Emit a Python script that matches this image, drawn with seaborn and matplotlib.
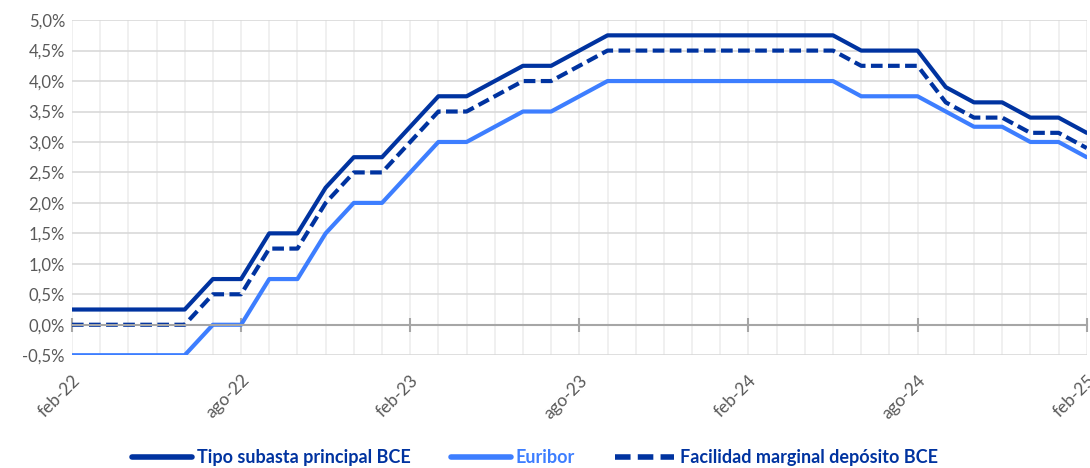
import pandas as pd
import matplotlib.pyplot as plt
import matplotlib.ticker as mticker
import seaborn as sns

# Monthly series, feb-22 .. feb-25 (%)
months = pd.date_range("2022-02-01", "2025-02-01", freq="MS")

tipo_principal = [0.25, 0.25, 0.25, 0.25, 0.25, 0.75, 0.75, 1.50, 1.50, 2.25,
                  2.75, 2.75, 3.25, 3.75, 3.75, 4.00, 4.25, 4.25, 4.50, 4.75,
                  4.75, 4.75, 4.75, 4.75, 4.75, 4.75, 4.75, 4.75, 4.50, 4.50,
                  4.50, 3.90, 3.65, 3.65, 3.40, 3.40, 3.15]
euribor = [-0.50, -0.50, -0.50, -0.50, -0.50, 0.00, 0.00, 0.75, 0.75, 1.50,
           2.00, 2.00, 2.50, 3.00, 3.00, 3.25, 3.50, 3.50, 3.75, 4.00,
           4.00, 4.00, 4.00, 4.00, 4.00, 4.00, 4.00, 4.00, 3.75, 3.75,
           3.75, 3.50, 3.25, 3.25, 3.00, 3.00, 2.75]
deposito = [0.00, 0.00, 0.00, 0.00, 0.00, 0.50, 0.50, 1.25, 1.25, 2.00,
            2.50, 2.50, 3.00, 3.50, 3.50, 3.75, 4.00, 4.00, 4.25, 4.50,
            4.50, 4.50, 4.50, 4.50, 4.50, 4.50, 4.50, 4.50, 4.25, 4.25,
            4.25, 3.65, 3.40, 3.40, 3.15, 3.15, 2.90]

meses_es = ["ene", "feb", "mar", "abr", "may", "jun", "jul", "ago", "sep", "oct", "nov", "dic"]
x_labels = [f"{meses_es[d.month - 1]}-{d.strftime('%y')}" for d in months]

df = pd.DataFrame({"idx": range(len(months)), "tipo": tipo_principal,
                   "euribor": euribor, "deposito": deposito})

dark = "#0033A0"
light = "#3D7EFF"

sns.set_style("white")
plt.rcParams['font.family'] = ['Lato', 'DejaVu Sans']

fig, ax = plt.subplots(figsize=(10.9, 4.68), dpi=100)
fig.subplots_adjust(left=0.066, right=0.997, top=0.957, bottom=0.241)

sns.lineplot(x="idx", y="tipo", data=df, ax=ax, color=dark, linewidth=3,
             label="Tipo subasta principal BCE")
sns.lineplot(x="idx", y="euribor", data=df, ax=ax, color=light, linewidth=3,
             label="Euribor")
sns.lineplot(x="idx", y="deposito", data=df, ax=ax, color=dark, linewidth=3,
             linestyle=(0, (2.8, 1.3)), label="Facilidad marginal depósito BCE")

ax.set_xlim(0, len(months) - 1)
ax.set_ylim(-0.5, 5.0)
ax.set_xlabel("")
ax.set_ylabel("")

# zero line as x axis (set before the ticks, it resets them)
ax.spines['bottom'].set_position(('data', 0))
ax.spines['bottom'].set_color("#A6A6A6")
ax.spines['bottom'].set_linewidth(1.5)
for s in ['top', 'right', 'left']:
    ax.spines[s].set_visible(False)

# y axis
ax.yaxis.set_major_locator(mticker.MultipleLocator(0.5))
ax.yaxis.set_major_formatter(mticker.FuncFormatter(lambda v, p: f"{v:.1f}%".replace(".", ",")))
ax.tick_params(axis='y', length=0, labelsize=12, labelcolor="#595959", pad=5)

# x axis: ticks every 6 months, monthly grid
ax.xaxis.set_minor_locator(mticker.MultipleLocator(1))
ax.set_xticks(range(0, len(months), 6))
ax.set_xticklabels(x_labels[::6])
ax.tick_params(axis='x', which='major', bottom=True, direction='inout', length=10, width=1.5,
               color="#A6A6A6", labelsize=12.5, labelcolor="#595959", pad=29,
               labelrotation=45)
ax.tick_params(axis='x', which='minor', length=0)
for lbl in ax.get_xticklabels():
    lbl.set_ha('right')
    lbl.set_rotation_mode('anchor')

ax.grid(axis='y', color="#D9D9D9", linewidth=1.2)
ax.grid(axis='x', which='both', color="#EEEEEE", linewidth=1.2)
ax.set_axisbelow(True)

handles, labels = ax.get_legend_handles_labels()
ax.get_legend().remove()
leg = fig.legend(handles, labels, loc='center', bbox_to_anchor=(0.491, 0.022), ncol=3,
                 frameon=False, handlelength=3.3, handletextpad=0.3, columnspacing=2.2,
                 labelcolor='linecolor', prop={'weight': 'bold', 'size': 13})
for line in leg.get_lines():
    line.set_linewidth(4)

fig.savefig("out.png", dpi=100)
